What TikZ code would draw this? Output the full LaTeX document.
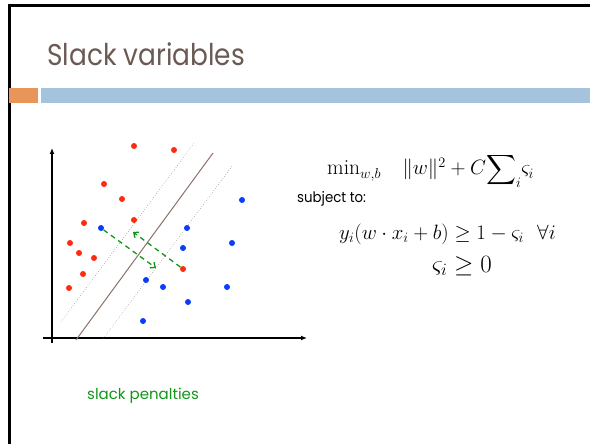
\documentclass[tikz,border=0pt]{standalone}
\usepackage{amsmath}
\usepackage{fontspec}
\setsansfont{Poppins}
\usetikzlibrary{arrows.meta,positioning}
\definecolor{titlebrown}{HTML}{6B5A53}
\definecolor{barorange}{HTML}{E8955A}
\definecolor{barblue}{HTML}{A5C3DC}
\definecolor{pointred}{HTML}{FF2A10}
\definecolor{pointblue}{HTML}{0A3BFF}
\definecolor{slackgreen}{HTML}{13951A}
\definecolor{lineb}{HTML}{8A7269}

\tikzset{
  rdot/.style={circle,fill=pointred,inner sep=0pt,minimum size=6pt},
  bdot/.style={circle,fill=pointblue,inner sep=0pt,minimum size=6pt},
  slack/.style={slackgreen,line width=1.3pt,dash pattern=on 5pt off 4pt,-{Straight Barb[length=4pt,width=7pt]}},
  margin/.style={lineb,line width=0.5pt,dotted},
}

\begin{document}
\begin{tikzpicture}[x=1pt,y=-1pt]
        \useasboundingbox (0,0) rectangle (590,444);
        % frame and header bars
        \draw[line width=3pt] (9,444) -- (9,6) -- (590,6);
        \fill[barorange] (9,88) rectangle (38,103);
        \fill[barblue] (41,88) rectangle (590,103);
        \node[anchor=base west,inner sep=0pt,text=titlebrown,xscale=0.88,font=\sffamily\fontsize{30}{32}\selectfont] (title) at (47,66) {Slack variables};
        % axes
        \draw[-{Latex[length=6pt,width=5pt]},line width=1.4pt] (52,343) -- (52,148);
        \draw[-{Latex[length=6pt,width=5pt]},line width=1.4pt] (43,338) -- (307,338);
        % separating line and margins
        \draw[lineb,line width=1pt] (76,340) -- (213,153);
        \draw[margin] (61,322) -- (194,143);
        \draw[margin] (103,339) -- (233,165);
        % red points
        \foreach \px/\py [count=\k] in {134/146,174/150,104/184,122/199,84/223,134/220,70/243,79/253,94/258,83/274,69/288,183/269}
          \node[rdot] (r\k) at (\px,\py) {};
        % blue points
        \foreach \px/\py [count=\k] in {101/228,187/228,242/200,183/248,232/243,146/280,163/287,227/287,188/302,143/321}
          \node[bdot] (b\k) at (\px,\py) {};
        % slack penalties
        \coordinate (sb) at (156,268);
        \coordinate (sr) at (133,232);
        \draw[slack] (b1) -- (sb);
        \draw[slack] (r12) -- (sr);
        % optimisation problem
        \node[anchor=base west,inner sep=0pt,font=\fontsize{21.5}{24}\selectfont] (obj) at (327,175)
          {$\mathrm{min}_{w,b}\quad \|w\|^2+C{\displaystyle\sum\nolimits_i}\varsigma_i$};
        \node[anchor=base west,inner sep=0pt,font=\sffamily\fontsize{14.5}{16}\selectfont,xscale=0.92] (subj) at (297,203) {subject to:};
        \node[anchor=base west,inner sep=0pt,font=\fontsize{22}{25}\selectfont] (cons) at (339,239)
          {$y_i(w\cdot x_i+b)\geq 1-\varsigma_i\ \ \forall i$};
        \node[anchor=base west,inner sep=0pt,font=\fontsize{23}{26}\selectfont] (pos) at (432,272)
          {$\varsigma_i\geq 0$};
        \node[anchor=base west,inner sep=0pt,text=slackgreen,font=\sffamily\fontsize{15}{17}\selectfont] (cap) at (87,399) {slack penalties};
\end{tikzpicture}
\end{document}
